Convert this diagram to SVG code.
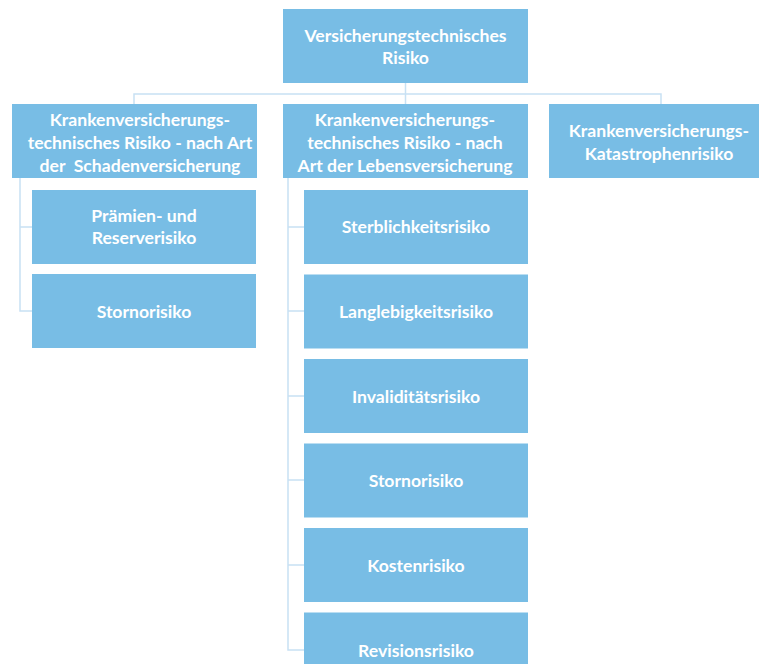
<svg xmlns="http://www.w3.org/2000/svg" width="759" height="664" viewBox="0 0 759 664">
<style>
.box{fill:#78BDE5}
.t{font-family:Lato,"Open Sans",sans-serif;font-weight:bold;font-size:17.6px;fill:#FFFFFF;text-anchor:middle}
.c{fill:none;stroke:#C8E1F4;stroke-width:1.5}
</style>
<rect width="759" height="664" fill="#FFFFFF"/>
<g id="connectors">
<path class="c" d="M405.5,83 V94 M134,104 V94 H661 V104 M405.5,94 V104"/>
<path class="c" d="M20,178 V311 H32 M20,227 H32"/>
<path class="c" d="M288,178 V650 H304 M288,227 H304 M288,311 H304 M288,396 H304 M288,480 H304 M288,565 H304"/>
</g>
<g id="n0"><rect class="box" x="283" y="9" width="245" height="74"/><text class="t" x="405.5" y="41.5">Versicherungstechnisches</text><text class="t" x="405.5" y="63.5">Risiko</text></g>
<g id="n1"><rect class="box" x="12" y="104" width="245" height="74"/><text class="t" x="140" y="125.5">Krankenversicherungs-</text><text class="t" x="140" y="148.5">technisches Risiko - nach Art</text><text class="t" x="140" y="171.5" xml:space="preserve">der  Schadenversicherung</text></g>
<g id="n2"><rect class="box" x="283" y="104" width="245" height="74"/><text class="t" x="405" y="125.5">Krankenversicherungs-</text><text class="t" x="405" y="148.5">technisches Risiko - nach</text><text class="t" x="405" y="171.5">Art der Lebensversicherung</text></g>
<g id="n3"><rect class="box" x="549" y="104" width="210" height="74"/><text class="t" x="659" y="136.5">Krankenversicherungs-</text><text class="t" x="659" y="159.5">Katastrophenrisiko</text></g>
<g id="n4"><rect class="box" x="32" y="190" width="224" height="74"/><text class="t" x="144" y="222">Prämien- und</text><text class="t" x="144" y="244">Reserverisiko</text></g>
<g id="n5"><rect class="box" x="32" y="274" width="224" height="74"/><text class="t" x="144" y="317.5">Stornorisiko</text></g>
<g id="n6"><rect class="box" x="304" y="190" width="224" height="74"/><text class="t" x="416" y="233">Sterblichkeitsrisiko</text></g>
<g id="n7"><rect class="box" x="304" y="274.5" width="224" height="74"/><text class="t" x="416" y="317.5">Langlebigkeitsrisiko</text></g>
<g id="n8"><rect class="box" x="304" y="359" width="224" height="74"/><text class="t" x="416" y="402.5">Invaliditätsrisiko</text></g>
<g id="n9"><rect class="box" x="304" y="443.5" width="224" height="74"/><text class="t" x="416" y="486.5">Stornorisiko</text></g>
<g id="n10"><rect class="box" x="304" y="528" width="224" height="74"/><text class="t" x="416" y="571.5">Kostenrisiko</text></g>
<g id="n11"><rect class="box" x="304" y="612.5" width="224" height="74"/><text class="t" x="416" y="656.5">Revisionsrisiko</text></g>
</svg>
